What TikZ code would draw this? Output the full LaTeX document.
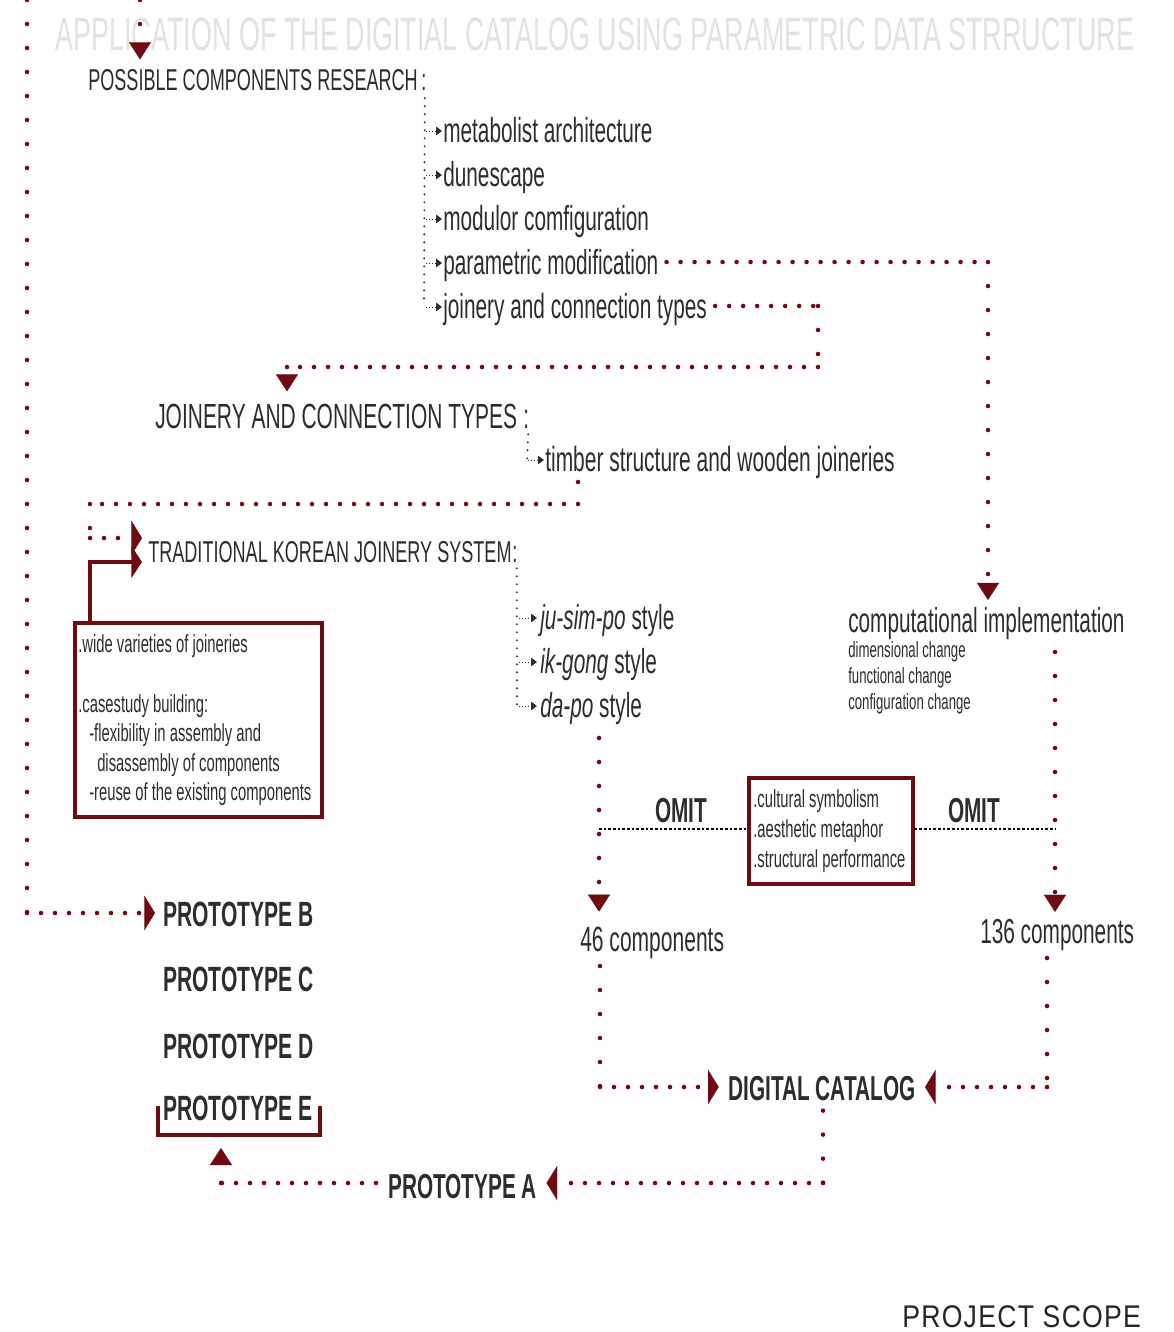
\documentclass[tikz,border=0pt]{standalone}
\usepackage{fontspec}
\setmainfont{Liberation Sans}[FakeStretch=0.6]
\newfontfamily\titlefont{Liberation Sans}[FakeStretch=0.578]
\newfontfamily\scopefont{Liberation Sans}[FakeStretch=0.85,LetterSpace=4]
\usetikzlibrary{arrows.meta,calc}
\definecolor{dred}{RGB}{110,10,16}
\definecolor{ink}{RGB}{45,45,45}
\definecolor{ghost}{RGB}{226,226,226}
\newcommand{\fsz}[1]{\fontsize{#1}{#1}\selectfont}
\begin{document}
\begin{tikzpicture}[x=0.75pt,y=-0.75pt,
 txt/.style={inner sep=0pt,anchor=base west,text=ink},
 vd/.style={dred,line width=3.4pt,line cap=round,dash pattern=on 0pt off 18pt},
 hd/.style={dred,line width=3.4pt,line cap=round,dash pattern=on 0pt off 10.5pt},
 bd/.style={ink,line width=1.6pt,line cap=round,dash pattern=on 0pt off 6pt},
 sa/.style={ink,line width=0.7pt,dash pattern=on 1pt off 1.2pt,-{Triangle[length=4.5pt,width=6.5pt]}},
 tipd/.style={-{Triangle[length=12.75pt,width=16.5pt,line width=0.1pt]}},
 tiph/.style={-{Triangle[length=8pt,width=26pt,line width=0.1pt]}},
 omitline/.style={black,line width=1pt,dash pattern=on 2pt off 1.5pt},
 redbox/.style={draw=dred,line width=2.4pt,inner sep=0pt}]
\useasboundingbox (0,0) rectangle (1174,1332);
\fill[white] (0,0) rectangle (1174,1332);

% title
\node[txt,text=ghost] (title) at (55,50) {\titlefont\fsz{35}APPLICATION OF THE DIGITIAL CATALOG USING PARAMETRIC DATA STRRUCTURE};

% possible components research
\node[txt] (pcr) at (88,90) {\fsz{22.6}POSSIBLE COMPONENTS RESEARCH};
\node[txt] (pcrc) at (421,90) {\fsz{22.6}:};
\node[txt] (i1) at (443,142) {\fsz{26}metabolist architecture};
\node[txt] (i2) at (443,186) {\fsz{26}dunescape};
\node[txt] (i3) at (443,230) {\fsz{26}modulor comfiguration};
\node[txt] (i4) at (443,274) {\fsz{26}parametric modification};
\node[txt] (i5) at (443,318) {\fsz{26}joinery and connection types};
\draw[bd] (pcrc.south) ++(1,8) -- ($(i5.base west)+(-19,-12)$);
\foreach \n in {i1,i2,i3,i4,i5}{
  \draw[sa] ($(\n.base west)+(-17,-11)$) -- ($(\n.base west)+(-1,-11)$);
}

% joinery and connection types
\node[txt] (jct) at (155,428) {\fsz{26.2}JOINERY AND CONNECTION TYPES};
\node[txt] (jctc) at (523,428) {\fsz{26}:};
\node[txt] (tim) at (545,471) {\fsz{26.2}timber structure and wooden joineries};
\draw[bd] (jctc.south) ++(2,6) -- ($(tim.base west)+(-18,-11)$);
\draw[sa] ($(tim.base west)+(-17,-11)$) -- ($(tim.base west)+(-1,-11)$);

% traditional korean joinery system
\node[txt] (tkj) at (148,562) {\fsz{22.6}TRADITIONAL KOREAN JOINERY SYSTEM};
\node[txt] (tkjc) at (512,562) {\fsz{23}:};
\node[txt] (js) at (540,629) {\fsz{26}\itshape ju-sim-po\/\upshape{} style};
\node[txt] (ig) at (540,673) {\fsz{26}\itshape ik-gong\/\upshape{} style};
\node[txt] (dp) at (540,717) {\fsz{26}\itshape da-po\/\upshape{} style};
\draw[bd] (tkjc.south) ++(2,6) -- ($(dp.base west)+(-23,-11)$);
\foreach \n in {js,ig,dp}{
  \draw[sa] ($(\n.base west)+(-21,-11)$) -- ($(\n.base west)+(-3,-11)$);
}

% left box
\node[redbox,minimum width=185.25pt,minimum height=145.5pt] (lb) at (198.5,720) {};
\node[txt] (lb1) at (78,652) {\fsz{18.5}.wide varieties of joineries};
\node[txt] (lb2) at (78,712) {\fsz{18.5}.casestudy building:};
\node[txt] (lb3) at (89,741) {\fsz{18.5}-flexibility in assembly and};
\node[txt] (lb4) at (97,771) {\fsz{18.5}disassembly of components};
\node[txt] (lb5) at (89,800) {\fsz{18.5}-reuse of the existing components};

% computational implementation
\node[txt] (ci) at (848,632) {\fsz{26}computational implementation};
\node[txt] (ci1) at (848,657) {\fsz{16.5}dimensional change};
\node[txt] (ci2) at (848,683) {\fsz{16.5}functional change};
\node[txt] (ci3) at (848,709) {\fsz{16.5}configuration change};

% middle box
\node[redbox,minimum width=123pt,minimum height=79.5pt] (mb) at (831,831) {};
\node[txt] (mb1) at (753,807) {\fsz{18.5}.cultural symbolism};
\node[txt] (mb2) at (753,837) {\fsz{18.5}.aesthetic metaphor};
\node[txt] (mb3) at (753,867) {\fsz{18.5}.structural performance};
\node[txt] (om1) at (655,822) {\fsz{26}\bfseries OMIT};
\node[txt] (om2) at (948,822) {\fsz{26}\bfseries OMIT};

% components
\node[txt] (c46) at (580,951) {\fsz{26.3}46 components};
\node[txt] (c136) at (980,943) {\fsz{26}136 components};
\node[txt] (dc) at (728,1100) {\fsz{26}\bfseries DIGITAL CATALOG};
\node[txt] (pa) at (388,1198) {\fsz{26}\bfseries PROTOTYPE A};

% prototypes
\node[txt] (pB) at (163,926) {\fsz{26.3}\bfseries PROTOTYPE B};
\node[txt] (pC) at (163,991) {\fsz{26.3}\bfseries PROTOTYPE C};
\node[txt] (pD) at (163,1058) {\fsz{26.3}\bfseries PROTOTYPE D};
\node[txt] (pE) at (163,1120) {\fsz{26.3}\bfseries PROTOTYPE E};
\draw[dred,line width=2.4pt] (158,1106) -- (158,1135) -- (320,1135) -- (320,1106);

\node[txt,text=black!85] (ps) at (902,1327) {\scopefont\fsz{23.5}PROJECT SCOPE};

% ---- connectors ----
\coordinate (t0) at (140,0);
\draw[vd,tipd,shorten >=7pt] (t0) -- (t0 |- pcr.north);

\coordinate (l0) at (27,0);
\coordinate (l1) at (27,913);
\draw[vd] (l0) -- (l1);
\draw[hd,tiph,shorten >=6pt] (l1) -- (l1 -| pB.west);

\coordinate (p1) at (988,262);
\draw[hd] ($(i4.east |- p1)+(8,0)$) -- (p1);
\draw[vd,tipd,shorten >=5pt] (p1) -- (p1 |- ci.north);

\coordinate (j1) at (818,306);
\coordinate (j2) at (818,367);
\coordinate (j3) at (287,367);
\draw[hd] ($(i5.east |- j1)+(8,0)$) -- (j1);
\draw[vd] (j1) -- (j2);
\draw[hd] (j2) -- (j3);
\draw[vd,tipd,shorten >=9pt] (j3) -- (j3 |- jct.north);

\coordinate (k0) at (578,482);
\coordinate (k1) at (578,504);
\coordinate (k2) at (90,504);
\coordinate (k3) at (90,538);
\draw[vd] (k0) -- (k1);
\draw[hd] (k1) -- (k2);
\draw[vd] (k2) -- (k3);
\draw[hd,tiph,shorten >=4.5pt] (k3) -- (k3 -| tkj.west);

\coordinate (s1) at (90,562);
\draw[dred,line width=3.6pt,-{Triangle[length=8pt,width=24pt]},shorten >=4.5pt] (lb.north -| s1) -- (s1) -- (s1 -| tkj.west);

\coordinate (d0) at (599,738);
\draw[vd,tipd,shorten >=11pt] (d0) -- (d0 |- c46.north);

\coordinate (c0) at (1055,652);
\draw[vd,tipd,shorten >=5pt] (c0) -- (c0 |- c136.north);

\coordinate (o1) at (599,829);
\coordinate (o2) at (1055,829);
\draw[omitline] (o1) -- (o1 -| mb.west);
\draw[omitline] (mb.east |- o2) -- (o2);

\coordinate (e0) at (600,966);
\coordinate (e1) at (600,1087);
\draw[vd] (e0) -- (e1);
\draw[hd,tiph,shorten >=7pt] (e1) -- (e1 -| dc.west);

\coordinate (f0) at (1047,958);
\coordinate (f1) at (1047,1087);
\draw[vd] (f0) -- (f1);
\draw[hd,tiph,shorten >=7pt] (f1) -- (f1 -| dc.east);

\coordinate (g1) at (823,1183);
\draw[vd] ($(dc.south -| g1)+(0,10)$) -- (g1);
\draw[hd,tiph,shorten >=7pt] (g1) -- (g1 -| pa.east);

\coordinate (h1) at (221,1183);
\coordinate (h2) at (221,1148);
\draw[hd] ($(pa.west |- h1)+(-12,0)$) -- (h1);
\draw[vd,tipd] (h1) -- (h2);
\end{tikzpicture}
\end{document}
